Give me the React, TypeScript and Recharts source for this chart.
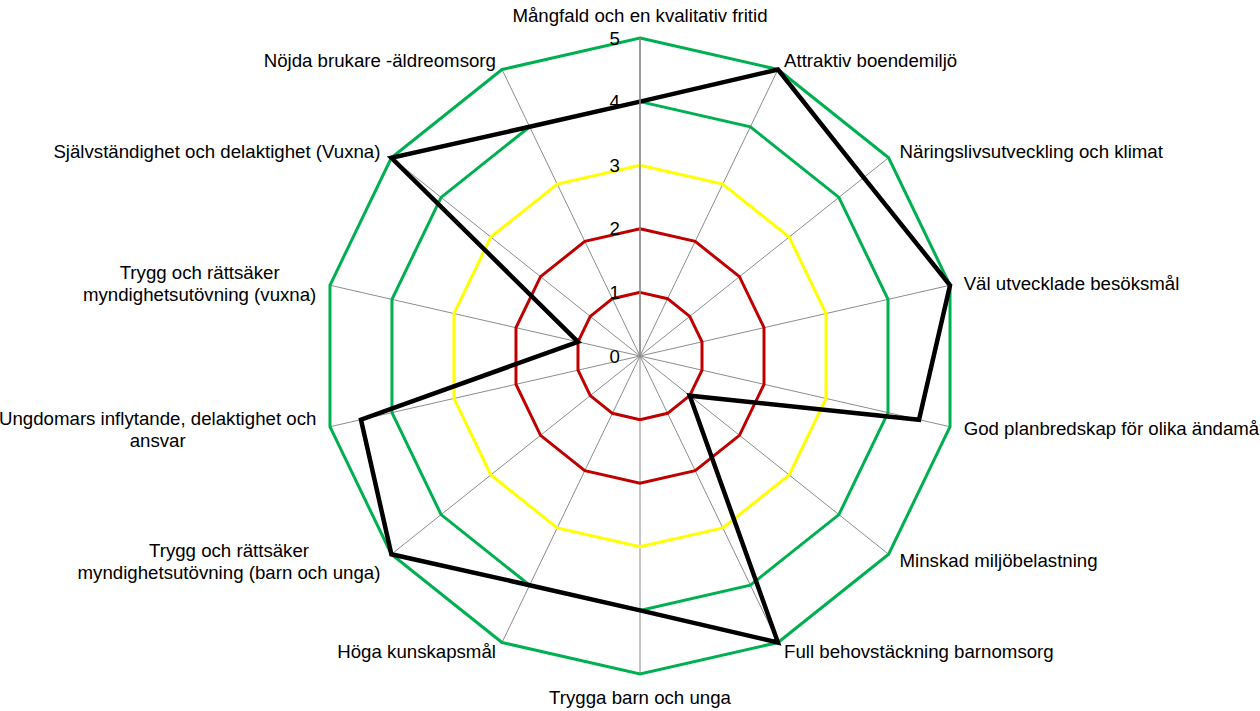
import React from "react";
import {
  RadarChart,
  Radar,
  PolarGrid,
  PolarAngleAxis,
  PolarRadiusAxis,
} from "recharts";

// Kategorier medurs från toppen ("\n" = radbrytning i etiketten)
const categories = [
  "Mångfald och en kvalitativ fritid",
  "Attraktiv boendemiljö",
  "Näringslivsutveckling och klimat",
  "Väl utvecklade besöksmål",
  "God planbredskap för olika ändamål",
  "Minskad miljöbelastning",
  "Full behovstäckning barnomsorg",
  "Trygga barn och unga",
  "Höga kunskapsmål",
  "Trygg och rättsäker\nmyndighetsutövning (barn och unga)",
  "Ungdomars inflytande, delaktighet och\nansvar",
  "Trygg och rättsäker\nmyndighetsutövning (vuxna)",
  "Självständighet och delaktighet (Vuxna)",
  "Nöjda brukare -äldreomsorg",
];

// Utfall (svart linje)
const utfall = [4, 5, 4.5, 5, 4.5, 1, 5, 4, 4, 5, 4.5, 1, 5, 4];

// Referensnivåer (färgade ringar)
const niva1 = [1, 1, 1, 1, 1, 1, 1, 1, 1, 1, 1, 1, 1, 1];
const niva2 = [2, 2, 2, 2, 2, 2, 2, 2, 2, 2, 2, 2, 2, 2];
const niva3 = [3, 3, 3, 3, 3, 3, 3, 3, 3, 3, 3, 3, 3, 3];
const niva4 = [4, 4, 4, 4, 4, 4, 4, 4, 4, 4, 4, 4, 4, 4];
const niva5 = [5, 5, 5, 5, 5, 5, 5, 5, 5, 5, 5, 5, 5, 5];

const radiusTicks = [0, 1, 2, 3, 4, 5];

const data = categories.map((name, i) => ({
  name,
  niva1: niva1[i],
  niva2: niva2[i],
  niva3: niva3[i],
  niva4: niva4[i],
  niva5: niva5[i],
  utfall: utfall[i],
}));

const FONT = "'Liberation Sans', Arial, sans-serif";
const FONT_SIZE = 18.67;

let measureCtx: CanvasRenderingContext2D | null = null;
function textWidth(t: string) {
  if (!measureCtx) measureCtx = document.createElement("canvas").getContext("2d");
  if (!measureCtx) return t.length * 9;
  measureCtx.font = `${FONT_SIZE}px ${FONT}`;
  return measureCtx.measureText(t).width;
}

function AngleTick(props: any) {
  const { x, y, payload } = props;
  const a = (payload.coordinate * Math.PI) / 180;
  const c = Math.cos(a);
  const s = Math.sin(a);
  // tillbaka till hörnet (tick-positionen ligger 8px utanför)
  const vx = x - 8 * c;
  const vy = y + 8 * s;
  const lines = String(payload.value).split("\n");
  const lineH = 22;

  let tx = vx;
  let ty = vy;
  let anchor: "start" | "middle" | "end" = "middle";
  if (Math.abs(c) < 0.1) {
    ty = vy - s * 23;
  } else {
    tx = vx + 14 * c;
    ty = vy - 10 * s;
    anchor = c > 0 ? "start" : "end";
  }

  if (lines.length === 1) {
    return (
      <text
        x={tx}
        y={ty}
        textAnchor={anchor}
        dominantBaseline="central"
        fontSize={FONT_SIZE}
        fontFamily={FONT}
        fill="#000"
      >
        {lines[0]}
      </text>
    );
  }

  const w = Math.max(...lines.map(textWidth));
  const mid = anchor === "end" ? tx - w / 2 : anchor === "start" ? tx + w / 2 : tx;
  const y0 = ty - ((lines.length - 1) * lineH) / 2;
  return (
    <text
      textAnchor="middle"
      dominantBaseline="central"
      fontSize={FONT_SIZE}
      fontFamily={FONT}
      fill="#000"
    >
      {lines.map((l, i) => (
        <tspan key={i} x={mid} y={y0 + i * lineH}>
          {l}
        </tspan>
      ))}
    </text>
  );
}

function RadiusTick(props: any) {
  const { x, y, payload } = props;
  return (
    <text
      x={x - 20}
      y={y}
      textAnchor="end"
      dominantBaseline="central"
      fontSize={FONT_SIZE}
      fontFamily={FONT}
      fill="#000"
    >
      {payload.value}
    </text>
  );
}

export default function App() {
  return (
    <div
      style={{
        position: "absolute",
        left: 0,
        top: 0,
        width: 1260,
        height: 711,
        overflow: "hidden",
        background: "#fff",
      }}
    >
      <RadarChart
        width={1260}
        height={711}
        data={data}
        cx={640}
        cy={356}
        outerRadius={318}
        margin={{ top: 0, right: 0, bottom: 0, left: 0 }}
      >
        <PolarGrid gridType="polygon" stroke="#8c8c8c" strokeWidth={1} />
        <PolarAngleAxis dataKey="name" axisLine={false} tickLine={false} tick={<AngleTick />} />
        <PolarRadiusAxis
          angle={90}
          type="number"
          domain={[0, 5]}
          ticks={radiusTicks}
          tickCount={6}
          axisLine={{ stroke: "#8c8c8c", strokeWidth: 1.5 }}
          tickLine={false}
          tick={<RadiusTick />}
        />
        <Radar dataKey="niva1" stroke="#C00000" strokeWidth={3} fill="none" fillOpacity={0} dot={false} isAnimationActive={false} />
        <Radar dataKey="niva2" stroke="#C00000" strokeWidth={3} fill="none" fillOpacity={0} dot={false} isAnimationActive={false} />
        <Radar dataKey="niva3" stroke="#FFFF00" strokeWidth={3} fill="none" fillOpacity={0} dot={false} isAnimationActive={false} />
        <Radar dataKey="niva4" stroke="#00B050" strokeWidth={3} fill="none" fillOpacity={0} dot={false} isAnimationActive={false} />
        <Radar dataKey="niva5" stroke="#00B050" strokeWidth={3} fill="none" fillOpacity={0} dot={false} isAnimationActive={false} />
        <Radar dataKey="utfall" stroke="#000000" strokeWidth={4.5} fill="none" fillOpacity={0} dot={false} isAnimationActive={false} />
      </RadarChart>
    </div>
  );
}
